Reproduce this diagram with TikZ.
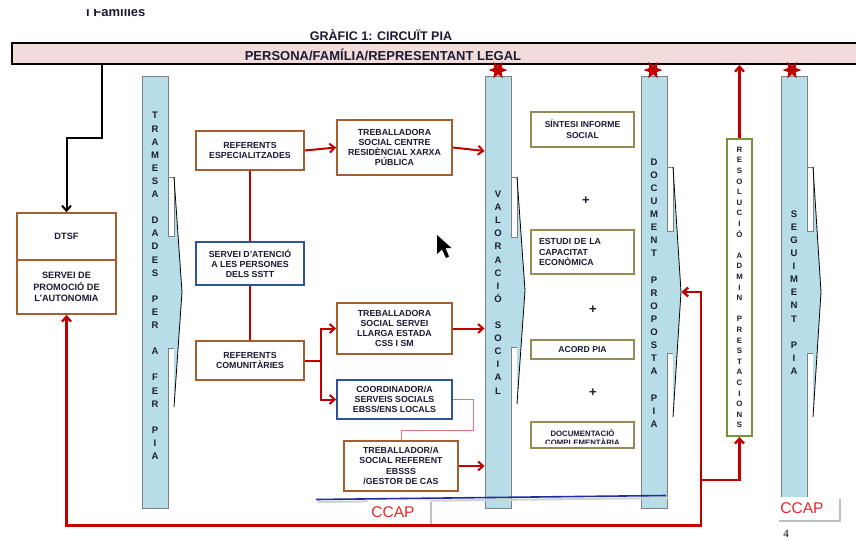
\documentclass[tikz,border=0pt]{standalone}
\usepackage{fontspec}
\setmainfont{Liberation Sans}
\newfontfamily\serifnum{Liberation Serif}
\usetikzlibrary{arrows.meta,shapes.geometric,shadows,calc}
\definecolor{cyanf}{HTML}{B7DEE8}
\definecolor{grayc}{HTML}{7F7F7F}
\definecolor{brownc}{HTML}{A65E2E}
\definecolor{bluec}{HTML}{2F5496}
\definecolor{olivec}{HTML}{948A54}
\definecolor{greenc}{HTML}{77933C}
\definecolor{redc}{HTML}{C00000}
\definecolor{pinkc}{HTML}{F2DCDB}
\definecolor{txt}{HTML}{1B1B33}
\definecolor{pinkline}{HTML}{E57373}
\definecolor{ccapred}{HTML}{E8262A}
\definecolor{blueline}{HTML}{1F2E9E}
\newcommand\chev[5]{%
  \fill[cyanf] (#1-1,#2) -- (#1+6,#2) -- (#1+14,{(#2+#5)/2}) -- (#1+6,#5) -- (#1-1,#5) -- cycle;
  \draw[grayc, line width=0.9pt, fill=white] (#1,#2) rectangle (#1+6,#3);
  \fill[white] (#1,#4) rectangle (#1+6,#5);
  \draw[grayc, line width=0.9pt] (#1,#5) -- (#1,#4) -- (#1+6,#4);
  \draw[black, line width=0.8pt] (#1+6,#2) -- (#1+14,{(#2+#5)/2}) -- (#1+6,#5);
}
\begin{document}
\begin{tikzpicture}[x=1pt,y=-1pt,
  every node/.style={text=txt},
  sz/.style 2 args={minimum width=#1pt, minimum height=#2pt},
  bbrown/.style={draw=brownc, line width=1.8pt, fill=white, font=\bfseries\fontsize{8.8}{10.3}\selectfont, align=center, inner sep=0pt},
  bblue/.style={bbrown, draw=bluec},
  bolive/.style={bbrown, draw=olivec, line width=2.4pt},
  colbox/.style={draw=grayc, line width=0.9pt, fill=cyanf, minimum width=26pt, minimum height=432pt, inner sep=0pt},
  vtext/.style={font=\bfseries\fontsize{9.5}{13.1}\selectfont, align=center, inner sep=0pt},
  redarr/.style={draw=redc, line width=2pt, -{Straight Barb[length=5pt,width=9pt]}},
  redbig/.style={draw=redc, line width=2.3pt, line join=miter},
  redthin/.style={draw=redc, line width=1.5pt},
  ccapbox/.style={fill=white, minimum width=62pt, minimum height=25pt, inner sep=0pt, drop shadow={shadow xshift=2pt, shadow yshift=-2pt, opacity=0.25, fill=black}},
  ccaptext/.style={text=ccapred, font=\fontsize{15.5}{16}\selectfont, inner sep=0pt},
  plus/.style={font=\bfseries\fontsize{13}{14}\selectfont, inner sep=0pt},
  redstar/.style={star, star points=6, star point ratio=0.45, fill=redc, minimum size=8.5pt, inner sep=0pt}
]
\useasboundingbox (0,0) rectangle (856,540);
\fill[white] (0,0) rectangle (856,540);

% header
\begin{scope}
  \clip (0,10) rectangle (300,30);
  \node[font=\bfseries\fontsize{13}{14}\selectfont, anchor=base west, inner sep=0pt] (fam) at (86,17) {i Famílies};
\end{scope}
\node[font=\bfseries\fontsize{12.5}{14}\selectfont, inner sep=0pt] (title) at (381,35) {GRÀFIC 1: CIRCUÏT PIA};
\node[draw=black, line width=2pt, fill=pinkc, minimum width=860pt, minimum height=21pt, anchor=west, inner sep=0pt] (banner) at (11,53.5) {};
\node[font=\bfseries\fontsize{13}{14}\selectfont, inner sep=0pt] (bannerT) at (383,54.5) {PERSONA/FAMÍLIA/REPRESENTANT LEGAL};

% columns
\node[colbox] (tramesa) at (155,292) {};
\node[colbox] (valor) at (498,292) {};
\node[colbox] (docprop) at (654,292) {};
\node[colbox] (seguim) at (794,292) {};
\chev{168}{177}{236}{348}{407}
\chev{511}{177}{237}{347}{404}
\chev{667}{167}{231}{353}{417}
\chev{807}{167}{231}{353}{417}
\node[vtext] (tramesaT) at (155,286) {T\\R\\A\\M\\E\\S\\A\\~\\D\\A\\D\\E\\S\\~\\P\\E\\R\\~\\A\\~\\F\\E\\R\\~\\P\\I\\A};
\node[vtext] (valorT) at (498,292.5) {V\\A\\L\\O\\R\\A\\C\\I\\Ó\\~\\S\\O\\C\\I\\A\\L};
\node[vtext] (docpropT) at (654,293) {D\\O\\C\\U\\M\\E\\N\\T\\~\\P\\R\\O\\P\\O\\S\\T\\A\\~\\P\\I\\A};
\node[vtext] (seguimT) at (794,292.5) {S\\E\\G\\U\\I\\M\\E\\N\\T\\~\\P\\I\\A};

% resolucio
\node[draw=greenc, line width=1.8pt, fill=white, sz={25}{297}, inner sep=0pt, align=center, font=\bfseries\fontsize{7.8}{10.6}\selectfont] (resol) at (739.5,287.5)
  {R\\E\\S\\O\\L\\U\\C\\I\\Ó\\~\\A\\D\\M\\I\\N\\~\\P\\R\\E\\S\\T\\A\\C\\I\\O\\N\\S};

% DTSF
\node[bbrown, sz={99}{47}, font=\bfseries\fontsize{9.2}{11.5}\selectfont] (dtsf) at (66.5,236.5) {DTSF};
\node[bbrown, sz={99}{54}, font=\bfseries\fontsize{9.2}{11.5}\selectfont] (spa) at (66.5,287) {SERVEI DE\\PROMOCIÓ DE\\L'AUTONOMIA};

% left boxes
\node[bbrown, sz={108}{39}] (refesp) at (250,150.5) {REFERENTS\\ESPECIALITZADES};
\node[bblue, sz={108}{43}] (servei) at (250,263.5) {SERVEI D'ATENCIÓ\\A LES PERSONES\\DELS SSTT};
\node[bbrown, sz={108}{39}] (refcom) at (250,360.5) {REFERENTS\\COMUNITÀRIES};
\node[bbrown, sz={115}{55}] (tscentre) at (394.5,147.5) {TREBALLADORA\\SOCIAL CENTRE\\RESIDÈNCIAL XARXA\\PÚBLICA};
\node[bbrown, sz={115}{51}] (tsservei) at (394.5,328.5) {TREBALLADORA\\SOCIAL SERVEI\\LLARGA ESTADA\\CSS I SM};
\node[bblue, sz={115}{39}] (coord) at (394.5,399.5) {COORDINADOR/A\\SERVEIS SOCIALS\\EBSS/ENS LOCALS};
\node[bbrown, sz={114}{50}] (tsref) at (401,466) {TREBALLADOR/A\\SOCIAL REFERENT\\EBSSS\\/GESTOR DE CAS};

% middle boxes
\node[bolive, sz={103}{35}, font=\bfseries\fontsize{8.6}{11}\selectfont] (sintesi) at (582.5,129.5) {SÍNTESI INFORME\\SOCIAL};
\node[bolive, sz={103}{44}, text width=87pt, align=left, font=\bfseries\fontsize{8.8}{10.5}\selectfont] (estudi) at (582.5,252) {ESTUDI DE LA\\CAPACITAT\\ECONÒMICA};
\node[bolive, sz={103}{19}, font=\bfseries\fontsize{8.6}{10}\selectfont] (acord) at (582.5,349.5) {ACORD PIA};
\node[bolive, sz={103}{26}] (docum) at (582.5,435) {};
\begin{scope}
  \clip (532,424) rectangle (633,443);
  \node[align=center, inner sep=0pt, font=\bfseries\fontsize{7.8}{8.8}\selectfont] (documT) at (582.5,437.5) {DOCUMENTACIÓ\\COMPLEMENTÀRIA};
\end{scope}
\node[plus] (p1) at (586,201) {+};
\node[plus] (p2) at (593,310) {+};
\node[plus] (p3) at (593,393) {+};

% connectors left
\coordinate (k102) at (102,0);
\coordinate (kbend) at (66.5,138);
\draw[black, line width=2pt, -{Straight Barb[length=5pt,width=9pt]}] (banner.south -| k102) |- (kbend) -- (dtsf.north);
\draw[redarr] (refesp.east) -- (tscentre.west);
\coordinate (v151) at (0,151);
\draw[redarr] (tscentre.east) -- (valor.west |- v151);
\draw[redthin] (refesp.south) -- (servei.north);
\draw[redthin] (servei.south) -- (refcom.north);
\draw[redarr] (refcom.east) -- ++(16,0) |- (tsservei.west);
\draw[redarr] (refcom.east) -- ++(16,0) |- (coord.west);
\draw[redarr] (tsservei.east) -- (valor.west |- tsservei.east);
\draw[redarr] (tsref.east) -- (valor.west |- tsref.east);
\draw[pinkline, line width=1pt] (coord.east) -| (473,430) -| (tsref.north);

% blue line
\draw[gray!35, line width=2pt] (318,502) -- (668,498);
\draw[blueline, line width=1.6pt] (316,499.5) -- (666,495.5);

% CCAP
\node[ccapbox] (ccap1) at (399,512.5) {};
\node[ccaptext] (ccap1T) at (393,512.5) {CCAP};
\node[ccapbox, minimum height=23pt] (ccap2) at (808,508.5) {};
\node[ccaptext] (ccap2T) at (802,508) {CCAP};

% bottom red network
\coordinate (jb) at (701,525.5);
\coordinate (jl) at (66.5,525.5);
\coordinate (jt) at (701,292);
\coordinate (jr) at (701,480);
\draw[redbig, {Straight Barb[length=5pt,width=9pt]}-{Straight Barb[length=5pt,width=9pt]}] ([xshift=14pt]docprop.east) -- (jt) -- (jb) -- (jl) -- (spa.south);
\draw[redbig, -{Straight Barb[length=5pt,width=9pt]}] (jr) -| (resol.south);
\draw[redbig, -{Straight Barb[length=5pt,width=9pt]}] (resol.north) -- (resol.north |- banner.south);

% stars
\node[redstar] (s1) at ([yshift=5.5pt]valor.north) {};
\node[redstar] (s2) at ([yshift=5.5pt,xshift=-1pt]docprop.north) {};
\node[redstar] (s3) at ([yshift=5.5pt,xshift=-2pt]seguim.north) {};

% cursor
\fill[black] (437,235) -- (437,254) -- (442,249.5) -- (446,258) -- (449,256.5) -- (445.5,248) -- (451.5,248) -- cycle;

% page number
\node[font=\serifnum\fontsize{11}{12}\selectfont, inner sep=0pt, text=black] (pnum) at (786,534) {4};
\end{tikzpicture}
\end{document}
